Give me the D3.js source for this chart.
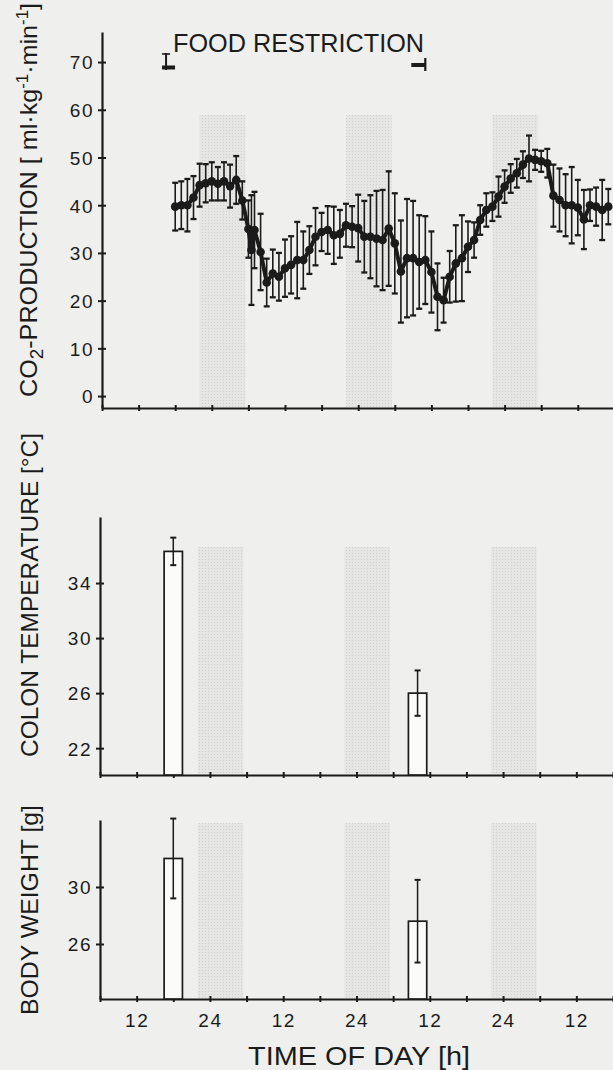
<!DOCTYPE html>
<html><head><meta charset="utf-8">
<script src="https://cdn.jsdelivr.net/npm/d3@7"></script>
<style>
html,body{margin:0;padding:0;background:#efefed;}
svg{display:block;}
text{font-family:"Liberation Sans",Arial,sans-serif;fill:#1b1b1b;}
</style></head><body>
<svg id="chart" width="613" height="1070"></svg>
<script>
// ---------- DATA ----------
const co2Hours = [18,19,20,21,22,23,24,25,26,27,28,29,30,30.5,31,32,33,34,35,36,37,38,39,40,41,42,43,44,45,46,47,48,49,50,51,52,53,54,55,56,57,58,59,60,61,62,63,64,65,66,67,68,69,70,71,72,73,74,75,76,77,78,79,80,81,82,83,84,85,86,87,88,89];
const co2Mean = [39.7,40,40,41.6,44.2,44.6,45,44.5,45,44,45.3,41,35,30.6,34.8,30.2,23.8,25.7,25,26.8,27.5,28.5,28.5,30.6,33.4,34.4,34.8,33.7,34,35.8,35.5,35.2,33.4,33.4,33,32.7,35.1,32,26.1,28.9,28.9,28.1,28.5,26,20.8,20.1,25,27.8,28.9,31.3,32.7,36.9,39,39.7,41.8,43.9,45.6,46.7,48.5,49.8,49.5,49.2,48.8,42,41.1,40,40,39.5,37,40,39.7,39,39.7];
const co2SD = [5,5,5.5,4.5,4.5,4,4,3.5,4,4.5,5,4,6,11.5,8,8,5,5,5,6,6,8,6,5,6,4,5,6,5,4.5,4.3,7,7.5,8.7,10,10.5,12,10.5,10.7,12.4,12,9.8,9.2,8.5,7,4.7,5.4,8,9,5.3,3.7,3.1,3.5,3,4.2,3.4,3,3,2.8,4.8,2.1,2.2,3,6.5,6.6,6.5,8,5.8,6.2,3.3,4,6.3,3.7];

const barStart = [16.5, 56.5];
const barEnd = [19.5, 59.5];
const colonTemp = [36.3, 26.0];
const colonSD = [1.0, 1.65];
const bodyWeight = [32.0, 27.6];
const bodySD = [2.8, 2.9];

const nightStart = [22, 46, 70];
const nightEnd = [29.5, 53.5, 77.5];
const foodRestriction = [16.5, 59];

const xTicks = [6,12,18,24,30,36,42,48,54,60,66,72,78,84,90];
const co2Ticks = [0,10,20,30,40,50,60,70];
const colonTicks = [22,26,30,34];
const bodyTicks = [26,30];

// ---------- SCALES ----------
const svg = d3.select("#chart");
const ink = "#1b1b1b";

const defs = svg.append("defs");
const pat = defs.append("pattern").attr("id","stip").attr("width",3).attr("height",3).attr("patternUnits","userSpaceOnUse");
pat.append("rect").attr("width",3).attr("height",3).attr("fill","#e6e6e4");
pat.append("rect").attr("x",1).attr("y",1).attr("width",1).attr("height",1).attr("fill","#d0d0ce");

const xTop = d3.scaleLinear().domain([6,90]).range([102, 614.4]);
const xLow = d3.scaleLinear().domain([6,90]).range([100, 613]);

const yCO2 = d3.scaleLinear().domain([-2.5, 76.3]).range([408, 32]);
const yColon = d3.scaleLinear().domain([20.05, 38.8]).range([775, 517]);
const yBody = d3.scaleLinear().domain([22.14, 34.7]).range([999, 820]);

function bands(x, yTopPx, yBotPx) {
  svg.append("g").selectAll("rect").data(nightStart).join("rect")
    .attr("x", (d) => x(d))
    .attr("width", (d,i) => x(nightEnd[i]) - x(d))
    .attr("y", yTopPx).attr("height", yBotPx - yTopPx)
    .attr("fill", "url(#stip)");
}
bands(xTop, 115, 407);
bands(xLow, 547, 774);
bands(xLow, 823, 998);

function styleAxis(g) {
  g.select(".domain").attr("stroke", ink).attr("stroke-width", 2.2);
  g.selectAll(".tick line").attr("stroke", ink).attr("stroke-width", 2);
  g.selectAll(".tick text").attr("fill", ink).attr("font-family", '"Liberation Sans",Arial,sans-serif');
}

function yAxis(scale, ticks, xPos) {
  const g = svg.append("g").attr("transform", `translate(${xPos},0)`)
    .call(d3.axisLeft(scale).tickValues(ticks).tickSize(4).tickSizeOuter(0).tickPadding(4));
  g.selectAll(".tick line").attr("x2", -4).attr("x1", 4);
  g.selectAll(".tick text").attr("font-size", 19).attr("letter-spacing", 1.5).attr("dy", "0.36em");
  styleAxis(g);
  return g;
}
function xAxis(scale, yPos, labels) {
  const g = svg.append("g").attr("transform", `translate(0,${yPos})`)
    .call(d3.axisBottom(scale).tickValues(xTicks).tickSize(3).tickSizeOuter(0).tickPadding(12)
      .tickFormat(d => labels && d % 12 === 0 ? String(d % 24 === 0 ? 24 : 12) : ""));
  g.selectAll(".tick line").attr("y1", -3).attr("y2", 3);
  g.selectAll(".tick text").attr("font-size", 19).attr("letter-spacing", 1.5);
  styleAxis(g);
  return g;
}

// ---------- TOP PANEL ----------
xAxis(xTop, 408, false);
yAxis(yCO2, co2Ticks, 102);

const co2 = co2Hours.map((h,i) => ({h, m: co2Mean[i], s: co2SD[i]}));
const eg = svg.append("g").attr("stroke", ink);
eg.selectAll("line.v").data(co2).join("line").attr("class","v")
  .attr("x1", d => xTop(d.h)).attr("x2", d => xTop(d.h))
  .attr("y1", d => yCO2(d.m + d.s)).attr("y2", d => yCO2(d.m - d.s))
  .attr("stroke-width", 1.6);
eg.selectAll("line.t").data(co2).join("line").attr("class","t")
  .attr("x1", d => xTop(d.h) - 3).attr("x2", d => xTop(d.h) + 3)
  .attr("y1", d => yCO2(d.m + d.s)).attr("y2", d => yCO2(d.m + d.s))
  .attr("stroke-width", 2.3);
eg.selectAll("line.b").data(co2).join("line").attr("class","b")
  .attr("x1", d => xTop(d.h) - 3).attr("x2", d => xTop(d.h) + 3)
  .attr("y1", d => yCO2(d.m - d.s)).attr("y2", d => yCO2(d.m - d.s))
  .attr("stroke-width", 2.3);

svg.append("path").datum(co2)
  .attr("fill","none").attr("stroke", ink).attr("stroke-width", 4)
  .attr("stroke-linejoin","round")
  .attr("d", d3.line().x(d => xTop(d.h)).y(d => yCO2(d.m)));
svg.append("g").selectAll("circle").data(co2).join("circle")
  .attr("cx", d => xTop(d.h)).attr("cy", d => yCO2(d.m)).attr("r", 4.3).attr("fill", ink);

// food restriction marks
const fr = svg.append("g").attr("stroke", ink);
const fx0 = xTop(foodRestriction[0]), fx1 = xTop(foodRestriction[1]);
fr.append("line").attr("x1", fx0).attr("x2", fx0).attr("y1", 53).attr("y2", 70).attr("stroke-width", 2);
fr.append("line").attr("x1", fx0 - 4).attr("x2", fx0 + 4).attr("y1", 54).attr("y2", 54).attr("stroke-width", 1.6);
fr.append("line").attr("x1", fx0 - 4).attr("x2", fx0 + 9).attr("y1", 67.5).attr("y2", 67.5).attr("stroke-width", 4);
fr.append("line").attr("x1", fx1).attr("x2", fx1).attr("y1", 58).attr("y2", 71).attr("stroke-width", 2.2);
fr.append("line").attr("x1", fx1 - 14).attr("x2", fx1).attr("y1", 65).attr("y2", 65).attr("stroke-width", 4);
svg.append("text").attr("x", 173).attr("y", 52).attr("font-size", 25)
  .attr("textLength", 251).attr("lengthAdjust", "spacingAndGlyphs").text("FOOD RESTRICTION");

// ---------- BAR PANELS ----------
function barPanel(yScale, vals, sds, axisY, ticks) {
  xAxis(xLow, axisY, axisY > 900);
  const bars = vals.map((v,i) => ({a: barStart[i], b: barEnd[i], v, s: sds[i]}));
  const g = svg.append("g");
  g.selectAll("rect").data(bars).join("rect")
    .attr("x", d => xLow(d.a)).attr("width", d => xLow(d.b) - xLow(d.a))
    .attr("y", d => yScale(d.v)).attr("height", d => yScale.range()[0] - yScale(d.v))
    .attr("fill", "#fbfbfa").attr("stroke", ink).attr("stroke-width", 1.7);
  const cx = d => xLow((d.a + d.b) / 2);
  g.selectAll("line.v").data(bars).join("line").attr("class","v")
    .attr("x1", cx).attr("x2", cx)
    .attr("y1", d => yScale(d.v + d.s)).attr("y2", d => yScale(d.v - d.s))
    .attr("stroke", ink).attr("stroke-width", 1.5);
  ["t","b"].forEach(k => {
    g.selectAll("line." + k).data(bars).join("line").attr("class", k)
      .attr("x1", d => cx(d) - 3).attr("x2", d => cx(d) + 3)
      .attr("y1", d => yScale(d.v + (k === "t" ? d.s : -d.s)))
      .attr("y2", d => yScale(d.v + (k === "t" ? d.s : -d.s)))
      .attr("stroke", ink).attr("stroke-width", 2);
  });
  yAxis(yScale, ticks, 100);
}
barPanel(yColon, colonTemp, colonSD, 775, colonTicks);
barPanel(yBody, bodyWeight, bodySD, 999, bodyTicks);

// ---------- AXIS TITLES ----------
const t1 = svg.append("text").attr("transform", "translate(37,397) rotate(-90)")
  .attr("font-size", 24).attr("textLength", 394).attr("lengthAdjust", "spacingAndGlyphs");
t1.append("tspan").text("CO");
t1.append("tspan").attr("dy", 6).attr("font-size", 18).text("2");
t1.append("tspan").attr("dy", -6).text("-PRODUCTION [ ml·kg");
t1.append("tspan").attr("dy", -9).attr("font-size", 16).text("-1");
t1.append("tspan").attr("dy", 9).text("·min");
t1.append("tspan").attr("dy", -9).attr("font-size", 16).text("-1");
t1.append("tspan").attr("dy", 9).text("]");

svg.append("text").attr("transform", "translate(38,757) rotate(-90)")
  .attr("font-size", 24).attr("textLength", 324).attr("lengthAdjust", "spacingAndGlyphs")
  .text("COLON TEMPERATURE [°C]");
svg.append("text").attr("transform", "translate(38,1015) rotate(-90)")
  .attr("font-size", 24).attr("textLength", 210).attr("lengthAdjust", "spacingAndGlyphs")
  .text("BODY WEIGHT [g]");
svg.append("text").attr("x", 248).attr("y", 1065).attr("font-size", 26)
  .attr("textLength", 222).attr("lengthAdjust", "spacingAndGlyphs")
  .text("TIME OF DAY [h]");
</script>
</body></html>
